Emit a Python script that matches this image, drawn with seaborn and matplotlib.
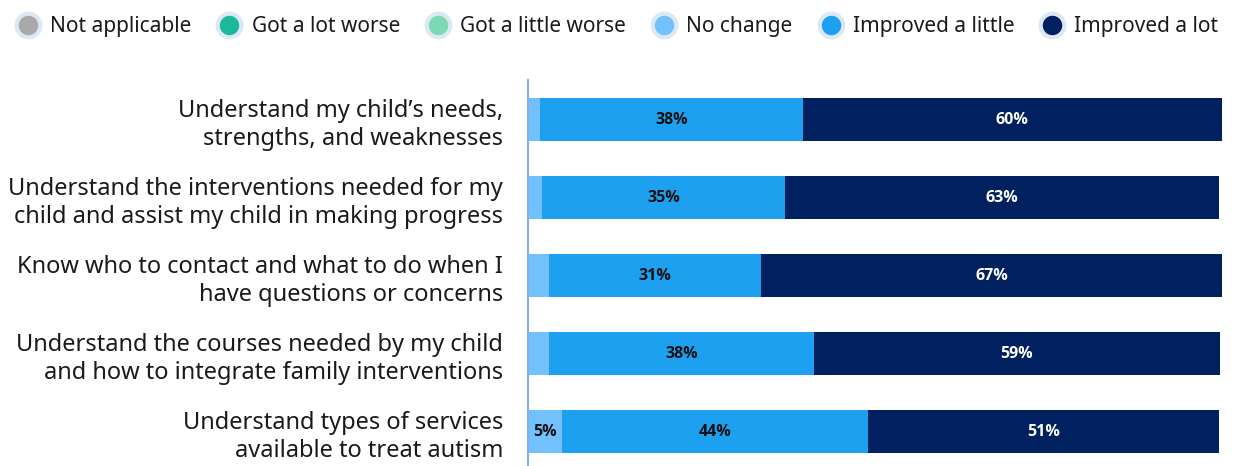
import matplotlib
matplotlib.use("Agg")
import matplotlib.pyplot as plt
from matplotlib.lines import Line2D
import seaborn as sns
import pandas as pd
import numpy as np

categories = [
    "Understand my child\u2019s needs,\nstrengths, and weaknesses",
    "Understand the interventions needed for my\nchild and assist my child in making progress",
    "Know who to contact and what to do when I\nhave questions or concerns",
    "Understand the courses needed by my child\nand how to integrate family interventions",
    "Understand types of services\navailable to treat autism",
]
legend_labels = ["Not applicable", "Got a lot worse", "Got a little worse",
                 "No change", "Improved a little", "Improved a lot"]
colors = ["#A9A9A9", "#1BB99B", "#7DD8B5", "#72C0FC", "#1EA0F0", "#002060"]

not_applicable = [0, 0, 0, 0, 0]
got_lot_worse = [0, 0, 0, 0, 0]
got_little_worse = [0, 0, 0, 0, 0]
no_change = [1.7, 2.0, 3.0, 3.0, 4.9]
improved_little = [37.9, 35.0, 30.6, 38.2, 44.1]
improved_lot = [60.4, 62.6, 66.51, 58.51, 50.6]

series = [not_applicable, got_lot_worse, got_little_worse,
          no_change, improved_little, improved_lot]

sns.set_theme(style="white")
plt.rcParams["font.family"] = ["Noto Sans", "DejaVu Sans"]

fig = plt.figure(figsize=(12.35, 4.66), dpi=100)
ax = fig.add_axes([528 / 1235, 0.0, (1222 - 528) / 1235, 1 - 80 / 466])

vals = np.array(series, dtype=float)
cum = np.cumsum(vals, axis=0)
starts = cum - vals

# draw from the top of the stack down so each segment overlays the previous
for i in range(len(series) - 1, -1, -1):
    df = pd.DataFrame({"cat": categories, "v": cum[i]})
    sns.barplot(data=df, y="cat", x="v", orient="h", color=colors[i],
                saturation=1, width=0.55, ax=ax, linewidth=0)

for i, s in enumerate(series):
    for j, v in enumerate(s):
        if v >= 4.5:
            cx = starts[i, j] + v / 2
            tc = "white" if i == 5 else "#111111"
            ax.text(cx, j, f"{v:.0f}%", ha="center", va="center",
                    fontsize=11.5, fontweight="bold", color=tc,
                    family=["Open Sans", "DejaVu Sans"])

ax.set_xlim(0, 100)
ax.set_ylim(4.44, -0.51)
ax.set_xlabel("")
ax.set_ylabel("")
ax.set_xticks([])
for sp in ["top", "right", "bottom"]:
    ax.spines[sp].set_visible(False)
ax.spines["left"].set_color("#7FB2E5")
ax.spines["left"].set_linewidth(1.5)
ax.tick_params(axis="y", length=0, pad=18, labelsize=17, labelcolor="#1a1a1a")
for t in ax.get_yticklabels():
    t.set_horizontalalignment("right")
    t.set_linespacing(1.22)

handles = [Line2D([0], [0], marker="o", linestyle="", markersize=17,
                  markerfacecolor=c, markeredgecolor="#DCE8F6",
                  markeredgewidth=3) for c in colors]
fig.legend(handles, legend_labels, loc="upper left",
           bbox_to_anchor=(6 / 1235, 1 - 9 / 466),
           ncol=6, frameon=False, fontsize=15, handletextpad=0.36,
           columnspacing=1.13, handlelength=1.4, labelcolor="#1a1a1a",
           borderaxespad=0.0, borderpad=0.35)

fig.savefig("out.png", dpi=100)
